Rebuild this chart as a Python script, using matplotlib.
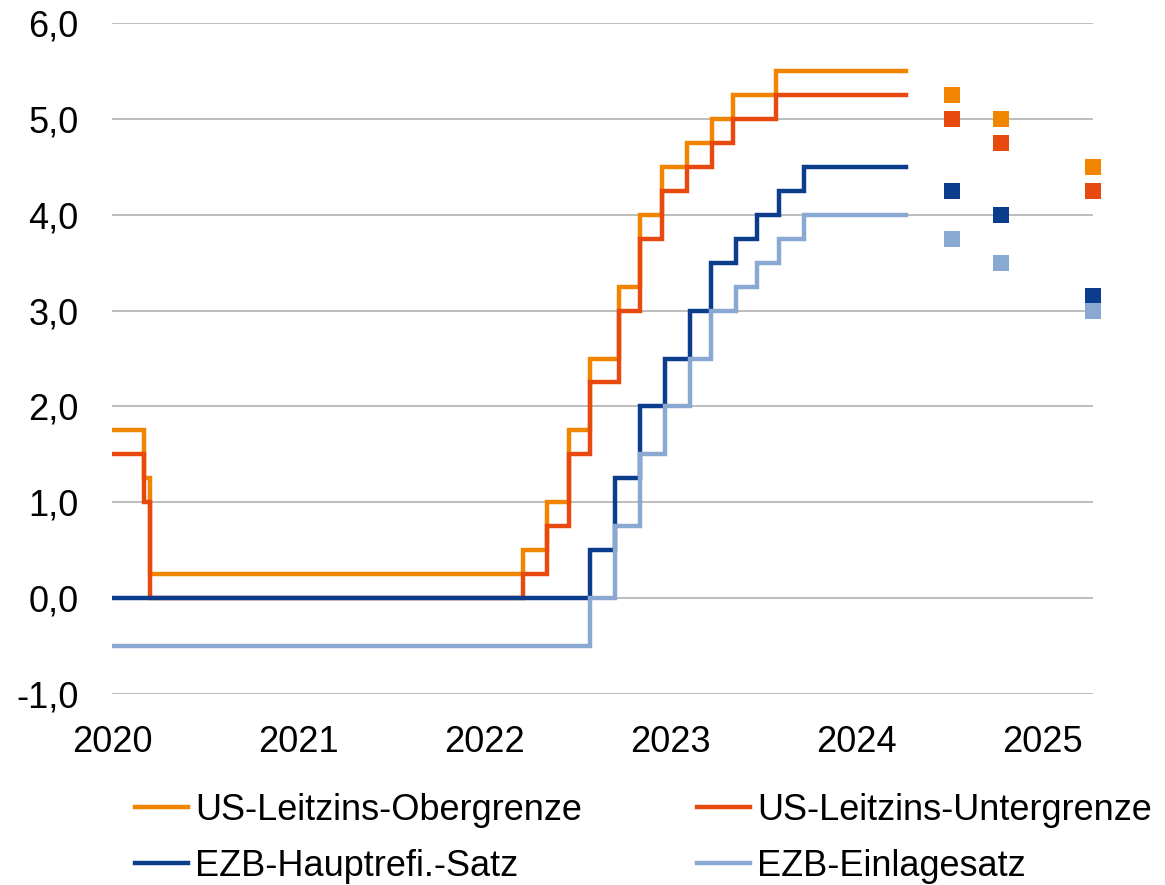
import matplotlib
matplotlib.use("Agg")
import matplotlib.pyplot as plt
from matplotlib.ticker import FuncFormatter
import pandas as pd

# ---- data ----
us_dates = ['2020-01-01', '2020-03-03', '2020-03-16', '2022-03-17', '2022-05-05',
            '2022-06-16', '2022-07-28', '2022-09-22', '2022-11-03', '2022-12-15',
            '2023-02-02', '2023-03-23', '2023-05-04', '2023-07-27', '2024-04-08']
us_upper = [1.75, 1.25, 0.25, 0.50, 1.00, 1.75, 2.50, 3.25, 4.00, 4.50, 4.75, 5.00, 5.25, 5.50, 5.50]
us_lower = [1.50, 1.00, 0.00, 0.25, 0.75, 1.50, 2.25, 3.00, 3.75, 4.25, 4.50, 4.75, 5.00, 5.25, 5.25]

ecb_dates = ['2020-01-01', '2022-07-27', '2022-09-14', '2022-11-02', '2022-12-21',
             '2023-02-08', '2023-03-22', '2023-05-10', '2023-06-21', '2023-08-02',
             '2023-09-20', '2024-04-08']
ecb_mro = [0.00, 0.50, 1.25, 2.00, 2.50, 3.00, 3.50, 3.75, 4.00, 4.25, 4.50, 4.50]
ecb_dfr = [-0.50, 0.00, 0.75, 1.50, 2.00, 2.50, 3.00, 3.25, 3.50, 3.75, 4.00, 4.00]

fc_dates = ['2024-07-08', '2024-10-11', '2025-04-10']
fc_us_upper = [5.25, 5.00, 4.50]
fc_us_lower = [5.00, 4.75, 4.25]
fc_mro = [4.25, 4.00, 3.15]
fc_dfr = [3.75, 3.50, 3.00]

labels = ['US-Leitzins-Obergrenze', 'US-Leitzins-Untergrenze',
          'EZB-Hauptrefi.-Satz', 'EZB-Einlagesatz']
colors = ['#F28500', '#E8490F', '#0C3C8C', '#89A9D2']
years = ['2020', '2021', '2022', '2023', '2024', '2025']

# ---- plot ----
plt.rcParams['font.family'] = ['Liberation Sans', 'DejaVu Sans']
fig = plt.figure(figsize=(11.65, 8.85), dpi=100)
ax = fig.add_axes([112/1165, 1-694/885, (1093-112)/1165, (694-23)/885])

usd = pd.to_datetime(us_dates)
ecd = pd.to_datetime(ecb_dates)
fcd = pd.to_datetime(fc_dates)

series = [(usd, us_upper, fc_us_upper), (usd, us_lower, fc_us_lower),
          (ecd, ecb_mro, fc_mro), (ecd, ecb_dfr, fc_dfr)]
handles = []
for (d, v, f), c, lab in zip(series, colors, labels):
    h, = ax.plot(d, v, drawstyle='steps-post', color=c, lw=3.2, label=lab,
                 solid_joinstyle='miter', zorder=3)
    handles.append(h)
for (d, v, f), c in zip(series, colors):
    ax.plot(fcd, f, linestyle='none', marker='s', markersize=11.5, color=c,
            markeredgewidth=0, clip_on=False, zorder=4)

ax.set_ylim(-1, 6)
ax.set_yticks([-1, 0, 1, 2, 3, 4, 5, 6])
ax.yaxis.set_major_formatter(FuncFormatter(lambda v, p: f"{v:.1f}".replace('.', ',')))
ax.set_xlim(pd.Timestamp('2020-01-01'), pd.Timestamp('2025-04-10'))
ax.set_xticks([pd.Timestamp(f'{y}-01-01') for y in years])
ax.set_xticklabels(years)

ax.grid(axis='y', color='#ABABAB', lw=1.1)
ax.set_axisbelow(True)
for s in ax.spines.values():
    s.set_visible(False)
ax.tick_params(axis='both', length=0, labelsize=26)
ax.tick_params(axis='y', pad=24)
ax.tick_params(axis='x', pad=22)

# row-wise legend order
order = [0, 2, 1, 3]
fig.legend(handles=[handles[i] for i in order], loc='upper left',
           bbox_to_anchor=(135/1165, 1-793/885),
           ncol=2, frameon=False, fontsize=26, handlelength=1.47, handletextpad=0.2,
           columnspacing=3.17, labelspacing=0.58, borderpad=0, borderaxespad=0)

fig.savefig('out.png', dpi=100)
